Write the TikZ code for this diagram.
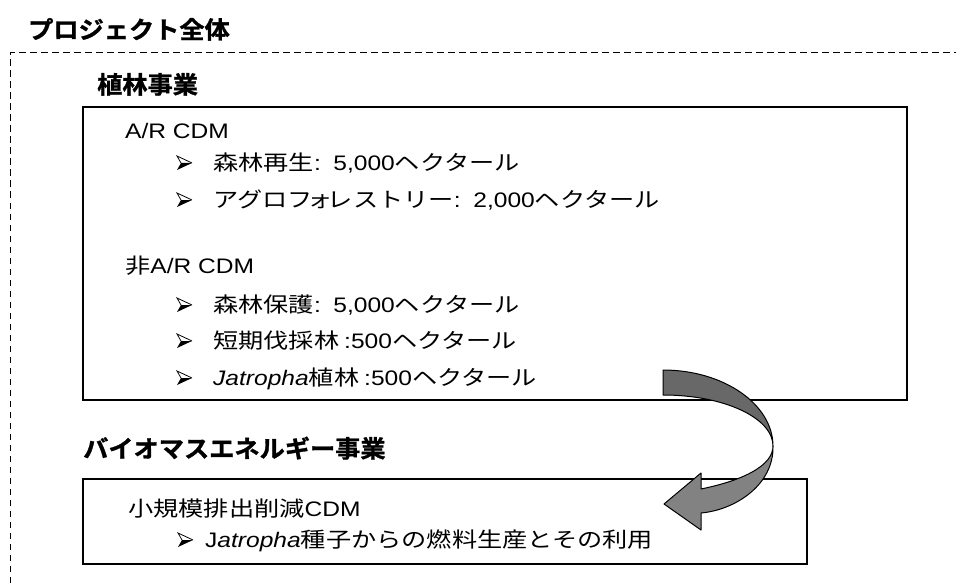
\documentclass[tikz,border=0pt]{standalone}
\usepackage{fontspec}
\setmainfont[FakeStretch=1.17]{Liberation Sans}
\newfontfamily\jp[FakeStretch=1.2]{Noto Sans CJK JP}
\newfontfamily\jpb[FakeStretch=1.05, FakeBold=1.2]{Noto Sans CJK JP Bold}
\newcommand\bodysize{\fontsize{21}{25}\selectfont}
\newcommand\headsize{\fontsize{24}{28}\selectfont}
\definecolor{darkband}{HTML}{686868}
\definecolor{lightband}{HTML}{828282}
\begin{document}
\begin{tikzpicture}[x=1pt,y=-1pt,
  frame/.style={line width=1pt, dash pattern=on 6.5pt off 4.5pt},
  boxx/.style={draw, line width=1.3pt, anchor=north west, inner sep=0pt, outer sep=0pt},
  txt/.style={anchor=base west, inner sep=0pt, font=\bodysize},
  head/.style={anchor=base west, inner sep=0pt, font=\jpb\headsize},
  band/.style={draw=black, line width=1pt, line join=round},
  bul/.pic={\fill (4,0) -- (15,0) -- (0,7) -- cycle; \draw[line width=0.8pt, line join=miter] (4,0) -- (0,-7) -- (15,0);}
]
\useasboundingbox (0,0) rectangle (956,583);

% outer dashed frame
\coordinate (fbl) at (10,583);
\coordinate (ftl) at (10,53);
\coordinate (ftr) at (956,53);
\draw[frame] (fbl) -- (ftl) -- (ftr);

\node[head] (title) at (28,38.5) {プロジェクト全体};

% planting project
\node[head] (h1) at (97,93.5) {植林事業};
\node[boxx, minimum width=824pt, minimum height=293pt] (box1) at (83,107) {};
\node[txt] (ar) at (125,138.5) {A/R CDM};
\pic at (177,163) {bul};
\node[txt] (ar1) at (213,170.5) {{\jp 森林再生}: \,5,000{\jp ヘクタール}};
\pic at (177,200) {bul};
\node[txt] (ar2) at (213,207.5) {{\jp アグロフ}\hspace{-5pt}{\jp ォ}\hspace{-5pt}{\jp レストリー}: \,2,000{\jp ヘクタール}};
\node[txt] (nar) at (125,273.5) {{\jp 非}A/R CDM};
\pic at (177,305) {bul};
\node[txt] (nar1) at (213,312.5) {{\jp 森林保護}: \,5,000{\jp ヘクタール}};
\pic at (177,341) {bul};
\node[txt] (nar2) at (213,348.5) {{\jp 短期伐採林}\hspace{5pt}:500{\jp ヘクタール}};
\pic at (177,378) {bul};
\node[txt] (nar3) at (213,385.5) {\textit{Jatropha}{\jp 植林}\hspace{5pt}:500{\jp ヘクタール}};

% biomass energy project
\node[head] (h2) at (83,457.5) {バイオマスエネルギー事業};
\node[boxx, minimum width=724pt, minimum height=85pt] (box2) at (83,479) {};
\node[txt] (ss) at (128,516.5) {{\jp 小規模排出削減}CDM};
\pic at (178,540) {bul};
\node[txt] (ss1) at (205,547.5) {J\textit{atropha}{\jp 種子からの燃料生産とその利用}};

% twisted curved arrow
\draw[band, fill=lightband] (773,446) .. controls (774,485) and (735,510) .. (701,513)
   -- (701,530) -- (664,504) -- (701,473) -- (701,489)
   .. controls (745,480) and (773,465) .. (773,446) -- cycle;
\draw[band, fill=darkband] (663,370) .. controls (723.8,370) and (773,404.5) .. (773,446)
   .. controls (773,417.8) and (723.8,395) .. (663,395) -- cycle;
\end{tikzpicture}
\end{document}
